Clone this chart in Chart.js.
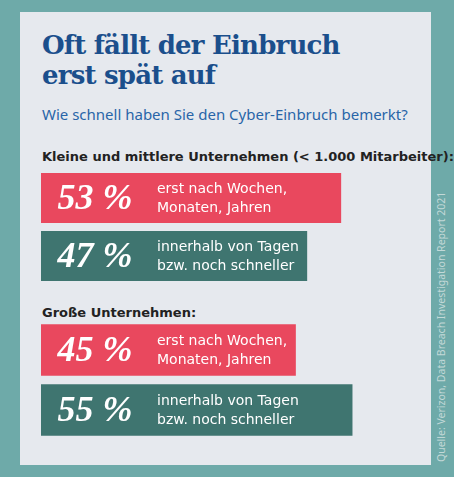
<!DOCTYPE html>
<html><head><meta charset="utf-8">
<script src="https://cdn.jsdelivr.net/npm/chart.js@4"></script>
<style>
body{margin:0;width:454px;height:477px;background:#6eaaa9;position:relative;overflow:hidden;font-family:"Noto Sans",sans-serif}
#panel{position:absolute;left:20px;top:12px;width:411px;height:453px;background:#e6e9ee}
.t{position:absolute;white-space:nowrap}
#title{left:42px;top:30px;font:bold 26px/30px "DejaVu Serif",serif;color:#1b4f8c;letter-spacing:-0.8px}
#sub{left:42px;top:104px;font-size:15px;color:#2965a8}
.h{left:42px;font:bold 13px "DejaVu Sans",sans-serif;color:#222}
#src{position:absolute;left:434px;top:462px;transform:rotate(-90deg);transform-origin:0 0;font-size:10.5px;color:#c3d9d8;white-space:nowrap;z-index:5}
canvas{position:absolute}
</style></head><body>
<div id="panel"></div>
<div class="t" id="title">Oft fällt der Einbruch<br>erst spät auf</div>
<div class="t" id="sub">Wie schnell haben Sie den Cyber-Einbruch bemerkt?</div>
<div class="t h" style="top:149px">Kleine und mittlere Unternehmen (&lt; 1.000 Mitarbeiter):</div>
<div class="t h" style="top:305px">Große Unternehmen:</div>
<div id="src">Quelle: Verizon, Data Breach Investigation Report 2021</div>
<div style="position:absolute;left:41px;top:169px;width:380px;height:116px"><canvas id="c1"></canvas></div>
<div style="position:absolute;left:41px;top:320px;width:380px;height:120px"><canvas id="c2"></canvas></div>
<script>
const categories = ["erst nach Wochen,\nMonaten, Jahren", "innerhalb von Tagen\nbzw. noch schneller"]
const kleine = [53, 47]
const grosse = [45, 55]
const farben = ["#e9485e", "#3f7570"]

const beschriften = {
  id: "beschriften",
  afterDatasetsDraw(chart) {
    const ctx = chart.ctx
    const meta = chart.getDatasetMeta(0)
    meta.data.forEach((bar, i) => {
      const y = bar.y
      const left = bar.base
      ctx.save()
      ctx.fillStyle = "#fff"
      ctx.textBaseline = "middle"
      ctx.textAlign = "center"
      ctx.font = "italic bold 36px 'Liberation Serif', serif"
      ctx.fillText(chart.data.datasets[0].data[i] + " %", left + 54, y + 2)
      ctx.textAlign = "left"
      ctx.font = "14px 'DejaVu Sans', sans-serif"
      const zeilen = categories[i].split("\n")
      ctx.fillText(zeilen[0], left + 116, y - 9)
      ctx.fillText(zeilen[1], left + 116, y + 10)
      ctx.restore()
    })
  }
}

function zeichne(id, werte) {
  new Chart(document.getElementById(id), {
    type: "bar",
    data: { labels: categories, datasets: [{ data: werte, backgroundColor: farben, barPercentage: 1, categoryPercentage: 0.86 }] },
    options: {
      indexAxis: "y", responsive: true, maintainAspectRatio: false, animation: false,
      layout: { padding: 0 },
      plugins: { legend: { display: false }, tooltip: { enabled: false } },
      scales: {
        x: { display: false, min: 0, max: 67.1 },
        y: { display: false }
      }
    },
    plugins: [beschriften]
  })
}
zeichne("c1", kleine)
zeichne("c2", grosse)
</script>
</body></html>
